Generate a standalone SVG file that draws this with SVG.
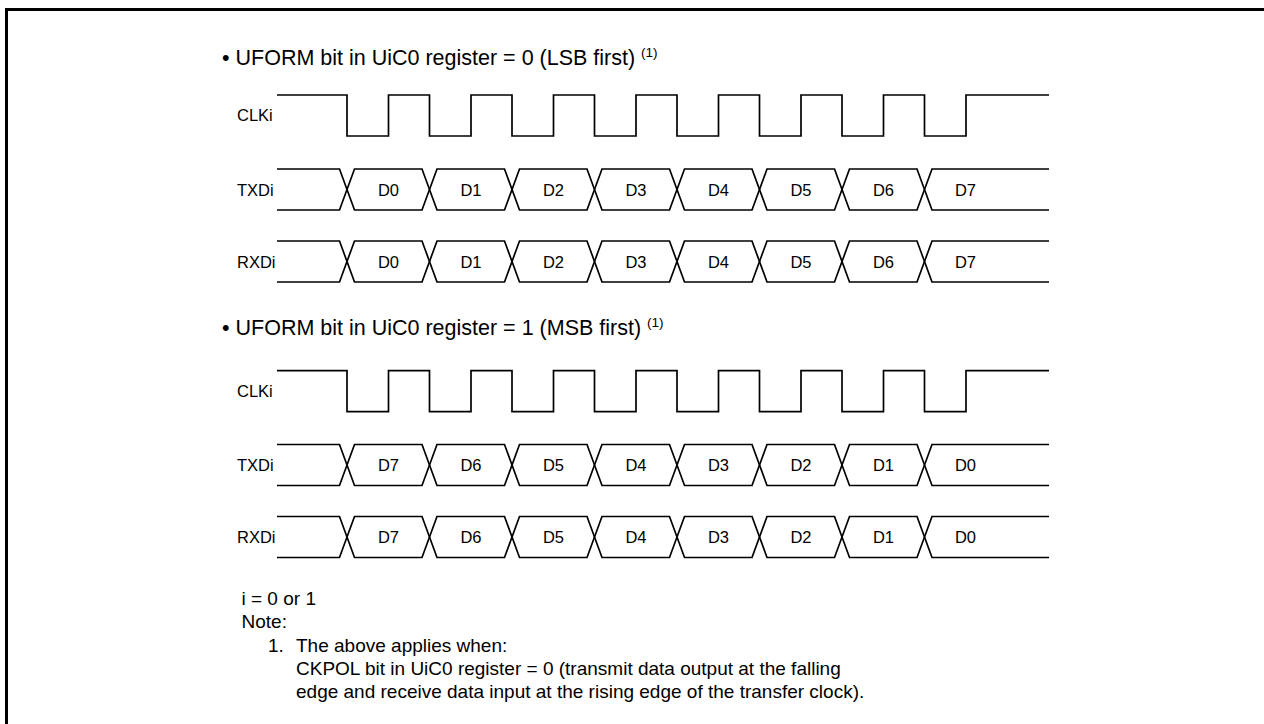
<svg xmlns="http://www.w3.org/2000/svg" xmlns:xlink="http://www.w3.org/1999/xlink" width="1264" height="724" viewBox="0 0 1264 724">
<style>
.t{font-family:"Liberation Sans",Arial,sans-serif;fill:#000}
.title{font-size:21.5px}
.sup{font-size:13.5px}
.lbl{font-size:16.5px}
.d{font-size:16.5px;text-anchor:middle}
.note{font-size:19px}
.w{fill:none;stroke:#000;stroke-width:1.7}
</style>
<defs>
<path id="clk" class="w" d="M277,0 H347 V41 H388.5 V0 H429.5 V41 H471 V0 H512 V41 H553.5 V0 H594.5 V41 H636 V0 H677 V41 H718.5 V0 H759.5 V41 H801 V0 H842 V41 H883.5 V0 H924.5 V41 H966 V0 H1049"/>
<g id="bus">
<path class="w" d="M277,-20.5 H339.5 L354.5,20.5 H422 L437,-20.5 H504.5 L519.5,20.5 H587 L602,-20.5 H669.5 L684.5,20.5 H752 L767,-20.5 H834.5 L849.5,20.5 H917 L932,-20.5 H1049"/>
<path class="w" d="M277,20.5 H339.5 L354.5,-20.5 H422 L437,20.5 H504.5 L519.5,-20.5 H587 L602,20.5 H669.5 L684.5,-20.5 H752 L767,20.5 H834.5 L849.5,-20.5 H917 L932,20.5 H1049"/>
</g>
</defs>
<path id="frame" d="M6.5,724 V9.5 H1264" fill="none" stroke="#000" stroke-width="3"/>

<g id="lsb">
<text class="t title" x="222" y="65">• UFORM bit in UiC0 register = 0 (LSB first) <tspan class="sup" dy="-8">(1)</tspan></text>
<g id="lsb-clk">
<text class="t lbl" x="237" y="121">CLKi</text>
<use xlink:href="#clk" href="#clk" y="95"/>
</g>
<g id="lsb-txd">
<text class="t lbl" x="237" y="195.5">TXDi</text>
<use xlink:href="#bus" href="#bus" y="189.5"/>
<text class="t d" x="388.5" y="195.5">D0</text><text class="t d" x="471" y="195.5">D1</text><text class="t d" x="553.5" y="195.5">D2</text><text class="t d" x="636" y="195.5">D3</text><text class="t d" x="718.5" y="195.5">D4</text><text class="t d" x="801" y="195.5">D5</text><text class="t d" x="883.5" y="195.5">D6</text><text class="t d" x="965.5" y="195.5">D7</text>
</g>
<g id="lsb-rxd">
<text class="t lbl" x="237" y="267.5">RXDi</text>
<use xlink:href="#bus" href="#bus" y="261.5"/>
<text class="t d" x="388.5" y="267.5">D0</text><text class="t d" x="471" y="267.5">D1</text><text class="t d" x="553.5" y="267.5">D2</text><text class="t d" x="636" y="267.5">D3</text><text class="t d" x="718.5" y="267.5">D4</text><text class="t d" x="801" y="267.5">D5</text><text class="t d" x="883.5" y="267.5">D6</text><text class="t d" x="965.5" y="267.5">D7</text>
</g>
</g>

<g id="msb">
<text class="t title" x="222" y="335">• UFORM bit in UiC0 register = 1 (MSB first) <tspan class="sup" dy="-8">(1)</tspan></text>
<g id="msb-clk">
<text class="t lbl" x="237" y="396.5">CLKi</text>
<use xlink:href="#clk" href="#clk" y="370.6"/>
</g>
<g id="msb-txd">
<text class="t lbl" x="237" y="471">TXDi</text>
<use xlink:href="#bus" href="#bus" y="465"/>
<text class="t d" x="388.5" y="471">D7</text><text class="t d" x="471" y="471">D6</text><text class="t d" x="553.5" y="471">D5</text><text class="t d" x="636" y="471">D4</text><text class="t d" x="718.5" y="471">D3</text><text class="t d" x="801" y="471">D2</text><text class="t d" x="883.5" y="471">D1</text><text class="t d" x="965.5" y="471">D0</text>
</g>
<g id="msb-rxd">
<text class="t lbl" x="237" y="543">RXDi</text>
<use xlink:href="#bus" href="#bus" y="537"/>
<text class="t d" x="388.5" y="543">D7</text><text class="t d" x="471" y="543">D6</text><text class="t d" x="553.5" y="543">D5</text><text class="t d" x="636" y="543">D4</text><text class="t d" x="718.5" y="543">D3</text><text class="t d" x="801" y="543">D2</text><text class="t d" x="883.5" y="543">D1</text><text class="t d" x="965.5" y="543">D0</text>
</g>
</g>

<g id="notes">
<text class="t note" x="241.5" y="605">i = 0 or 1</text>
<text class="t note" x="241.5" y="628">Note:</text>
<text class="t note" x="268" y="651.5">1.</text>
<text class="t note" x="296" y="651.5">The above applies when:</text>
<text class="t note" x="296" y="675">CKPOL bit in UiC0 register = 0 (transmit data output at the falling</text>
<text class="t note" x="296" y="697.5">edge and receive data input at the rising edge of the transfer clock).</text>
</g>
</svg>
